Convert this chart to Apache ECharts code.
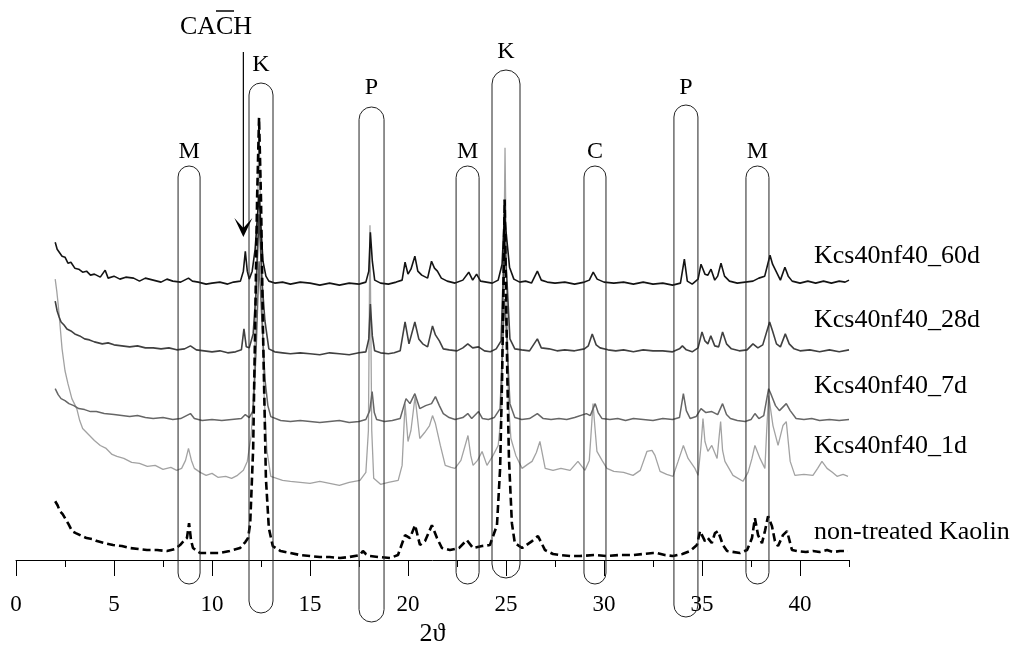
<!DOCTYPE html>
<html>
<head>
<meta charset="utf-8">
<script src="https://cdn.jsdelivr.net/npm/echarts@6/dist/echarts.min.js"></script>
<style>
  html, body { margin: 0; background: #fff; }
  #chart { width: 1020px; height: 652px; }
</style>
</head>
<body>
<div id="chart"></div>
<script>
// XRD patterns, [2theta, displayed intensity incl. vertical offset]
var d60 = [
  [2.0,319],[2.1,312],[2.2,314],[2.35,305],[2.5,304],[2.65,298],[2.8,299],[3.0,293],[3.2,292],[3.4,289],[3.6,290],[3.8,286],[4.0,287],[4.3,284],[4.55,291],[4.7,283],[5.0,285],[5.3,282],[5.6,284],[6.0,283],[6.3,280],[6.6,283],[7.0,281],[7.4,279],[7.7,282],[8.0,280],[8.4,279],[8.8,283],[9.0,280],[9.3,279],[9.7,277],[10.0,278],[10.4,279],[10.8,277],[11.1,279],[11.45,280],[11.6,290],[11.7,310],[11.8,290],[11.9,282],[12.05,290],[12.2,312],[12.32,345],[12.4,367],[12.48,340],[12.6,300],[12.75,285],[12.9,280],[13.2,278],[13.6,279],[14.0,277],[14.5,279],[15.0,278],[15.5,276],[16.0,278],[16.5,276],[17.0,278],[17.5,277],[17.85,279],[18.0,290],[18.08,329],[18.18,300],[18.3,281],[18.6,278],[19.0,277],[19.4,279],[19.7,281],[19.85,299],[20.0,287],[20.15,292],[20.35,305],[20.5,290],[20.7,286],[21.0,283],[21.2,300],[21.35,293],[21.5,290],[21.7,283],[22.0,280],[22.4,278],[22.8,281],[23.1,289],[23.3,281],[23.5,287],[23.7,280],[24.0,279],[24.3,278],[24.6,281],[24.8,297],[24.92,347],[25.05,320],[25.18,294],[25.4,282],[25.7,279],[26.0,280],[26.3,278],[26.6,290],[26.8,281],[27.1,279],[27.5,278],[28.0,279],[28.5,277],[29.0,279],[29.25,281],[29.45,289],[29.65,282],[30.0,279],[30.5,278],[31.0,279],[31.5,277],[32.0,279],[32.5,277],[33.0,278],[33.5,276],[33.9,278],[34.1,302],[34.25,280],[34.5,277],[34.8,282],[34.95,297],[35.15,287],[35.3,286],[35.46,292],[35.65,281],[35.8,285],[35.97,298],[36.15,285],[36.4,280],[36.8,278],[37.2,279],[37.6,280],[37.9,283],[38.2,285],[38.47,306],[38.6,297],[38.75,291],[39.0,281],[39.23,294],[39.4,285],[39.6,280],[40.0,278],[40.4,280],[40.8,278],[41.2,280],[41.6,278],[42.0,280],[42.3,279],[42.5,281]
];
var d28 = [
  [2.0,260],[2.1,250],[2.2,244],[2.3,239],[2.45,236],[2.6,232],[2.8,230],[3.0,227],[3.25,225],[3.5,222],[3.75,221],[4.0,219],[4.4,217],[4.7,218],[5.0,216],[5.4,215],[5.8,214],[6.2,215],[6.6,213],[7.0,213],[7.4,212],[7.8,213],[8.2,211],[8.6,212],[8.9,215],[9.2,211],[9.6,210],[10.0,209],[10.4,210],[10.8,208],[11.2,209],[11.5,211],[11.63,232],[11.75,214],[11.9,213],[12.1,227],[12.25,270],[12.4,347],[12.55,280],[12.7,240],[12.9,212],[13.2,209],[13.6,208],[14.0,207],[14.5,208],[15.0,207],[15.5,206],[16.0,208],[16.5,207],[17.0,206],[17.5,208],[17.85,209],[18.0,222],[18.08,257],[18.18,225],[18.3,210],[18.6,208],[19.0,207],[19.3,208],[19.6,210],[19.85,239],[20.05,217],[20.35,239],[20.55,222],[20.75,217],[21.0,214],[21.25,235],[21.4,226],[21.6,220],[21.8,212],[22.1,211],[22.5,210],[22.8,213],[23.05,217],[23.3,213],[23.6,214],[23.9,210],[24.2,209],[24.5,212],[24.75,220],[24.92,322],[25.05,280],[25.2,222],[25.45,212],[25.8,211],[26.2,210],[26.6,222],[26.8,213],[27.2,212],[27.6,210],[28.0,211],[28.5,210],[29.0,212],[29.2,215],[29.4,227],[29.6,216],[29.8,213],[30.2,211],[30.6,210],[31.0,211],[31.5,209],[32.0,211],[32.5,210],[33.0,210],[33.5,209],[33.85,212],[34.0,215],[34.2,211],[34.5,209],[34.8,213],[35.0,229],[35.15,220],[35.3,217],[35.45,225],[35.65,215],[35.85,214],[36.05,229],[36.25,217],[36.5,212],[36.9,210],[37.3,211],[37.6,217],[37.85,213],[38.1,216],[38.45,239],[38.6,230],[38.8,217],[39.0,214],[39.25,227],[39.45,217],[39.7,212],[40.0,210],[40.5,211],[41.0,209],[41.5,211],[42.0,209],[42.5,211]
];
var d7 = [
  [2.0,172],[2.15,166],[2.3,162],[2.5,160],[2.7,157],[2.95,155],[3.2,152],[3.5,151],[3.8,149],[4.1,149],[4.5,147],[5.0,146],[5.4,145],[5.8,144],[6.2,145],[6.6,143],[7.0,142],[7.5,143],[8.0,141],[8.4,142],[8.9,147],[9.1,142],[9.5,140],[10.0,141],[10.5,140],[11.0,141],[11.5,142],[11.7,146],[11.9,143],[12.1,150],[12.25,210],[12.4,300],[12.55,240],[12.7,182],[12.85,155],[13.0,144],[13.5,140],[14.0,139],[14.5,140],[15.0,139],[15.5,138],[16.0,139],[16.5,140],[17.0,138],[17.5,139],[17.85,141],[18.05,150],[18.17,169],[18.28,148],[18.4,141],[18.8,139],[19.2,140],[19.6,142],[19.9,162],[20.1,157],[20.35,167],[20.6,152],[20.9,155],[21.2,157],[21.4,164],[21.6,155],[21.8,147],[22.1,143],[22.4,141],[22.8,143],[23.05,147],[23.25,142],[23.6,149],[23.8,142],[24.1,141],[24.4,143],[24.7,152],[24.92,262],[25.05,220],[25.2,157],[25.45,143],[25.8,141],[26.2,142],[26.6,147],[26.9,142],[27.3,141],[27.7,142],[28.1,141],[28.5,143],[29.1,147],[29.3,145],[29.55,157],[29.7,148],[29.9,142],[30.3,141],[30.7,142],[31.1,140],[31.5,142],[32.0,141],[32.5,140],[33.0,142],[33.5,141],[33.85,143],[34.05,167],[34.2,150],[34.4,142],[34.7,144],[34.95,152],[35.2,148],[35.5,149],[35.8,146],[36.05,157],[36.25,146],[36.45,142],[36.8,140],[37.2,139],[37.5,141],[37.7,147],[37.9,142],[38.15,145],[38.4,172],[38.55,165],[38.75,155],[38.95,150],[39.3,157],[39.5,150],[39.8,142],[40.2,141],[40.6,142],[41.0,140],[41.5,141],[42.0,140],[42.5,141]
];
var d1 = [
  [2.0,282],[2.08,270],[2.15,257],[2.25,235],[2.35,212],[2.5,190],[2.65,177],[2.85,162],[3.1,152],[3.25,140],[3.4,132],[3.7,126],[4.0,120],[4.3,115],[4.6,112],[4.9,106],[5.15,104],[5.5,102],[5.9,98],[6.3,97],[6.7,94],[7.1,95],[7.5,91],[7.9,93],[8.2,90],[8.45,92],[8.65,100],[8.8,112],[8.95,100],[9.1,92],[9.4,88],[9.7,85],[10.0,87],[10.3,83],[10.7,84],[11.0,82],[11.3,85],[11.6,90],[11.8,99],[12.0,125],[12.15,180],[12.28,300],[12.4,432],[12.52,300],[12.65,170],[12.8,110],[13.0,84],[13.3,82],[13.6,80],[14.0,79],[14.5,78],[15.0,77],[15.5,79],[16.0,77],[16.5,75],[17.0,78],[17.55,80],[17.85,88],[17.98,130],[18.06,336],[18.15,130],[18.25,82],[18.6,76],[19.0,78],[19.5,80],[19.7,95],[19.85,157],[20.0,119],[20.15,130],[20.36,164],[20.6,122],[20.85,128],[21.1,135],[21.25,145],[21.4,137],[21.65,115],[21.9,95],[22.2,93],[22.4,92],[22.7,100],[23.06,125],[23.2,105],[23.32,95],[23.55,100],[23.78,109],[24.03,95],[24.34,105],[24.6,115],[24.78,150],[24.88,280],[24.95,414],[25.03,280],[25.12,160],[25.25,122],[25.5,105],[25.82,92],[26.1,96],[26.33,99],[26.55,108],[26.73,119],[26.9,102],[27.0,92],[27.4,90],[27.8,92],[28.27,90],[28.67,99],[29.03,90],[29.25,100],[29.44,157],[29.55,130],[29.64,109],[29.9,100],[30.15,92],[30.5,89],[31.0,88],[31.48,85],[31.85,90],[32.19,109],[32.45,110],[32.6,105],[32.86,89],[33.2,86],[33.52,84],[33.78,99],[34.05,115],[34.29,102],[34.64,92],[34.8,85],[34.95,115],[35.05,142],[35.15,119],[35.3,109],[35.5,115],[35.77,102],[35.88,125],[35.95,139],[36.05,110],[36.17,99],[36.58,85],[37.09,79],[37.35,88],[37.55,102],[37.7,115],[37.96,102],[38.21,92],[38.3,130],[38.4,165],[38.62,135],[38.88,115],[39.13,135],[39.3,139],[39.5,99],[39.74,85],[40.2,86],[40.66,85],[40.9,92],[41.12,99],[41.38,92],[41.65,88],[41.89,84],[42.2,86],[42.45,84]
];
var kaolin = [
  [2.0,59],[2.12,55],[2.24,49],[2.38,46],[2.5,42],[2.68,36],[2.86,29],[3.05,27],[3.27,25],[3.6,22],[3.9,21],[4.13,19],[4.5,17],[4.95,15],[5.4,14],[5.82,12],[6.25,11],[6.68,10],[7.2,10],[7.7,9],[8.1,11],[8.37,15],[8.6,20],[8.72,22],[8.83,37],[8.93,20],[9.03,12],[9.39,7],[9.9,7],[10.4,7],[10.9,9],[11.43,12],[11.7,18],[11.84,22],[11.95,37],[12.1,112],[12.2,232],[12.3,362],[12.4,444],[12.5,362],[12.6,232],[12.75,82],[12.9,32],[13.1,14],[13.5,9],[14.0,7],[14.5,5],[15.0,4],[15.5,3],[16.0,3],[16.53,2],[17.0,3],[17.55,5],[17.7,9],[17.85,6],[18.06,4],[18.5,3],[19.08,2],[19.49,5],[19.85,25],[20.1,22],[20.36,35],[20.61,15],[20.87,19],[21.22,35],[21.48,22],[21.73,12],[22.14,10],[22.6,12],[23.0,20],[23.32,12],[23.78,14],[24.18,15],[24.54,35],[24.7,92],[24.8,182],[24.87,272],[24.93,362],[25.0,272],[25.07,182],[25.15,102],[25.3,37],[25.45,17],[25.82,12],[26.33,19],[26.63,24],[26.99,10],[27.4,6],[27.76,5],[28.3,4],[28.78,4],[29.5,5],[30.15,4],[30.8,5],[31.48,5],[32.0,6],[32.5,7],[32.7,7],[33.1,5],[33.52,4],[34.0,6],[34.39,9],[34.74,15],[34.9,29],[35.15,19],[35.3,22],[35.5,17],[35.66,27],[35.82,29],[36.07,15],[36.28,9],[36.94,7],[37.3,10],[37.55,22],[37.7,42],[37.86,25],[38.06,17],[38.21,29],[38.37,44],[38.57,34],[38.72,19],[38.88,14],[39.13,25],[39.34,29],[39.59,10],[39.85,9],[40.3,8],[40.66,9],[41.0,8],[41.38,10],[41.7,8],[42.04,9],[42.45,9]
];

var seriesNames = ['Kcs40nf40_60d', 'Kcs40nf40_28d', 'Kcs40nf40_7d', 'Kcs40nf40_1d', 'non-treated Kaolin'];
// peak markers (phase letter, 2theta position)
var bandLabels = ['M', 'K', 'P', 'M', 'K', 'C', 'P', 'M'];
var bandCenters = [8.83, 12.5, 18.14, 23.04, 25.0, 29.54, 34.18, 37.83];
var cachPos = 11.6;

var SERIF = "'Liberation Serif', 'DejaVu Serif', serif";
var chart = echarts.init(document.getElementById('chart'));

function line(name, data, color, width, dash) {
  return {
    name: name, type: 'line', data: data, xAxisIndex: 0, yAxisIndex: 0,
    showSymbol: false, symbol: 'none', silent: true,
    lineStyle: { color: color, width: width, type: dash || 'solid' }
  };
}

chart.setOption({
  animation: false,
  backgroundColor: '#fff',
  grid: [
    { left: 16, right: 171, top: 62, bottom: 90 },
    { left: 16, width: 784, top: 62, bottom: 90 }
  ],
  xAxis: [{
    type: 'value', gridIndex: 0, min: 0, max: 42.5, interval: 2.5,
    axisLine: { lineStyle: { color: '#000', width: 1 } },
    axisTick: { length: 7, lineStyle: { color: '#000' } },
    axisLabel: { show: false },
    splitLine: { show: false },
    name: '2ϑ', nameLocation: 'middle', nameGap: 61,
    nameTextStyle: { fontFamily: SERIF, fontSize: 26, color: '#000' }
  }, {
    type: 'value', gridIndex: 1, min: 0, max: 40, interval: 5,
    axisLine: { show: false },
    axisTick: { show: true, length: 14, lineStyle: { color: '#000' } },
    axisLabel: { margin: 31, fontFamily: SERIF, fontSize: 23, color: '#000' },
    splitLine: { show: false }
  }],
  yAxis: [
    { type: 'value', gridIndex: 0, min: 0, max: 500, show: false },
    { type: 'value', gridIndex: 1, min: 0, max: 500, show: false }
  ],
  series: [
    line(seriesNames[3], d1, '#a2a2a2', 1.3),
    line(seriesNames[2], d7, '#666666', 1.5),
    line(seriesNames[1], d28, '#404040', 1.6),
    line(seriesNames[0], d60, '#141414', 1.6),
    line(seriesNames[4], kaolin, '#000000', 2.6, [8, 4])
  ]
});

// annotations: capsules around peak positions, letters, CACH arrow, series names
var capTop = [166, 83, 107, 166, 70, 166, 105, 166];
var capBottom = [584, 613, 622, 584, 578, 584, 617, 584];
var capWidth = [22, 24, 25, 23, 28, 22, 24, 23];
var labelY = [152, 65, 88, 152, 52, 152, 88, 152];
var nameY = [256, 320, 386, 446, 532];

var g = [];
bandCenters.forEach(function (c, i) {
  var px = chart.convertToPixel({ xAxisIndex: 0 }, c);
  g.push({
    type: 'rect', silent: true, z: 10,
    shape: { x: px - capWidth[i] / 2, y: capTop[i], width: capWidth[i], height: capBottom[i] - capTop[i], r: capWidth[i] / 2 },
    style: { fill: 'none', stroke: '#222', lineWidth: 1 }
  });
  g.push({
    type: 'text', silent: true, z: 10, x: px, y: labelY[i],
    style: { text: bandLabels[i], font: '24px ' + SERIF, fill: '#000', align: 'center', verticalAlign: 'middle' }
  });
});
var ax = chart.convertToPixel({ xAxisIndex: 0 }, cachPos);
g.push({
  type: 'line', silent: true, z: 10,
  shape: { x1: ax, y1: 52, x2: ax, y2: 230 },
  style: { stroke: '#000', lineWidth: 1.2 }
});
g.push({
  type: 'polygon', silent: true, z: 10,
  shape: { points: [[ax - 9, 218], [ax, 237], [ax + 9, 218], [ax, 228]] },
  style: { fill: '#000' }
});
g.push({
  type: 'text', silent: true, z: 10, x: 216, y: 27,
  style: { text: 'CACH', font: '26px ' + SERIF, fill: '#000', align: 'center', verticalAlign: 'middle' }
});
g.push({
  type: 'line', silent: true, z: 10,
  shape: { x1: 216, y1: 11, x2: 234, y2: 11 },
  style: { stroke: '#000', lineWidth: 1.5 }
});
seriesNames.forEach(function (n, i) {
  g.push({
    type: 'text', silent: true, z: 10, x: 814, y: nameY[i],
    style: { text: n, font: '26px ' + SERIF, fill: '#000', align: 'left', verticalAlign: 'middle' }
  });
});
chart.setOption({ graphic: g });
</script>
</body>
</html>
